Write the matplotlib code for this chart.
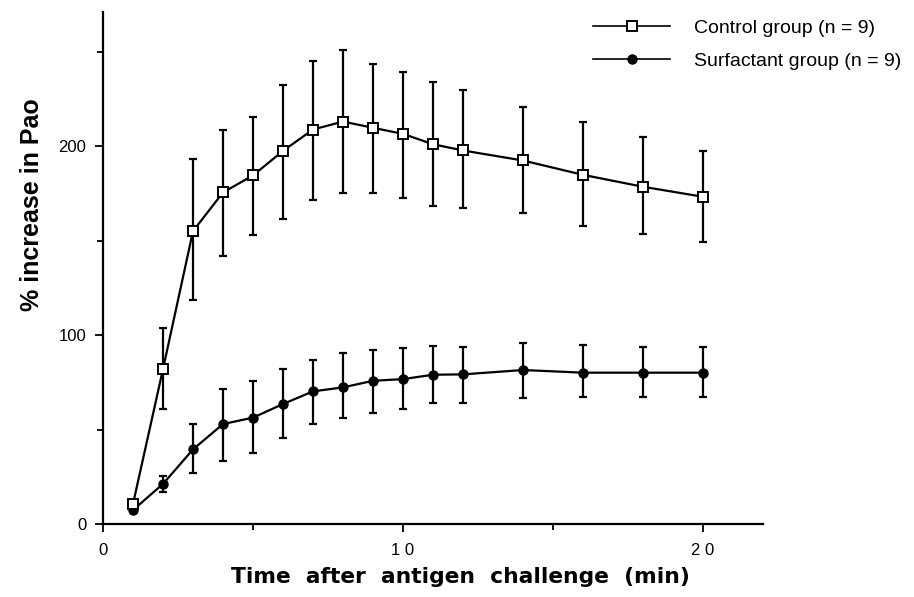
import matplotlib
matplotlib.use("Agg")
import matplotlib.pyplot as plt
import numpy as np

plt.rcParams['font.family'] = ['Liberation Sans', 'DejaVu Sans']

time_min = [1, 2, 3, 4, 5, 6, 7, 8, 9, 10, 11, 12, 14, 16, 18, 20]

control_mean = [10.6, 82, 155, 175.5, 184.5, 197.5, 208.8, 213, 209.7, 206.5, 201, 197.7, 192.4, 184.8, 178.5, 173.2]
control_upper = [10.6, 104, 193, 208.6, 215.2, 232.3, 245.1, 250.8, 243.4, 239.2, 233.7, 229.6, 220.5, 213, 204.8, 197.2]
control_lower = [10.6, 60.7, 118.5, 141.8, 152.9, 161.5, 171.6, 175, 175, 172.7, 168.3, 167.4, 164.4, 157.7, 153.6, 149]

surf_mean = [7.4, 21.2, 39.5, 52.9, 56.3, 63.5, 70.2, 72.3, 75.8, 76.7, 79, 79.2, 81.5, 80.1, 80.1, 80.1]
surf_upper = [7.4, 25.6, 52.7, 71.6, 75.8, 82.2, 86.8, 90.3, 92.1, 93.3, 94.3, 93.5, 95.9, 94.5, 93.5, 93.5]
surf_lower = [7.4, 16.9, 26.8, 33.2, 37.4, 45.3, 52.9, 56.3, 58.6, 60.7, 63.9, 63.9, 66.5, 67.4, 67.4, 67.4]

x_ticks = [0, 10, 20]
y_ticks = [0, 100, 200]
labels = ["Control group (n = 9)", "Surfactant group (n = 9)"]

fig = plt.figure(figsize=(9.14, 5.97), dpi=100)
ax = fig.add_axes([103/914, 1-524/597, (763-103)/914, (524-12)/597])

def err(mean, up, lo):
    m = np.array(mean); return [m - np.array(lo), np.array(up) - m]

ax.errorbar(time_min, control_mean, yerr=err(control_mean, control_upper, control_lower),
            fmt='none', ecolor='black', elinewidth=1.6, capsize=3, capthick=1.6, zorder=2)
ax.errorbar(time_min, surf_mean, yerr=err(surf_mean, surf_upper, surf_lower),
            fmt='none', ecolor='black', elinewidth=1.6, capsize=3, capthick=1.6, zorder=2)
l2, = ax.plot(time_min, surf_mean, color='black', lw=1.6, marker='o', ms=6.5,
              mfc='black', mec='black', zorder=3, label=labels[1])
l1, = ax.plot(time_min, control_mean, color='black', lw=1.6, marker='s', ms=6.5,
              mfc='white', mec='black', mew=1.4, zorder=4, label=labels[0])

ax.set_xlim(0, 22)
ax.set_ylim(0, 271)
ax.spines['top'].set_visible(False)
ax.spines['right'].set_visible(False)
for s in ['left', 'bottom']:
    ax.spines[s].set_linewidth(1.6)
ax.set_xticks(x_ticks)
ax.set_xticks([5, 15], minor=True)
ax.set_yticks(y_ticks)
ax.set_yticks([50, 150, 250], minor=True)
ax.tick_params(which='both', direction='out', length=6, width=1.3, labelsize=12)
ax.tick_params(axis='x', pad=8)
ax.tick_params(axis='y', pad=6)
ax.tick_params(which='minor', length=4)
ax.set_xticklabels([" ".join(str(t)) for t in x_ticks])

ax.set_xlabel("Time  after  antigen  challenge  (min)", fontsize=15.7, fontweight='bold',
              family=['DejaVu Sans'])
ax.xaxis.set_label_coords((460-103)/660, -(567-524)/512)
ax.set_ylabel("% increase in Pao", fontsize=18, fontweight='bold')
ax.yaxis.set_label_coords(-(103-44)/660, (524-205)/512)

leg = fig.legend(handles=[l1, l2], labels=labels, loc='upper left',
                 bbox_to_anchor=(593/914, 1-19/597), frameon=False, fontsize=14,
                 handlelength=3.96, handletextpad=1.25, numpoints=1, labelspacing=0.82,
                 borderaxespad=0, borderpad=0)
for h in leg.legend_handles:
    h.set_linewidth(1.2)

fig.savefig("out.png", dpi=100)
